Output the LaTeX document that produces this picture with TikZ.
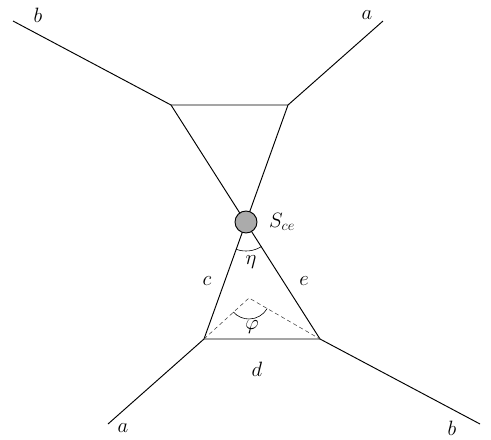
\documentclass[tikz,border=0pt]{standalone}
\usetikzlibrary{calc}
\begin{document}
\begin{tikzpicture}[x=1pt,y=-1pt,
  edge/.style={line width=0.95pt},
  aux/.style={line width=0.55pt,black!75,dash pattern=on 4pt off 3pt},
  anglearc/.style={line width=0.6pt},
  lbl/.style={font=\fontsize{21}{25}\selectfont,inner sep=0pt},
  vtx/.style={circle,draw,line width=0.95pt,fill=black!33,minimum size=22pt,inner sep=0pt}]
\useasboundingbox (0,0) rectangle (491,440);
% outer ends
\coordinate (tl) at (13,21);
\coordinate (tr) at (383,21);
\coordinate (bl) at (108,424);
\coordinate (br) at (480,424);
% corners
\coordinate (A) at (171,105);
\coordinate (B) at (288,105);
\coordinate (C) at (204,339);
\coordinate (D) at (320,339);
\coordinate (X) at (246,222);
\coordinate (P) at (249,298);
% lines
\draw[edge] (tl) -- (A) -- (B) -- (tr);
\draw[edge] (bl) -- (C) -- (D) -- (br);
\draw[edge] (A) -- (D);
\draw[edge] (B) -- (C);
\draw[aux] (C) -- (P) -- (D);
% angle arcs (y axis points down, so angles are measured clockwise)
\draw[anglearc] ($(X)+(57.7:29)$) arc[start angle=57.7,end angle=109.7,radius=29];
\draw[anglearc] ($(P)+(30:21)$) arc[start angle=30,end angle=138,radius=21];
% vertex
\node[vtx] (S) at (X) {};
% labels
\node[lbl] (lb1) at (38,15) {$b$};
\node[lbl] (la1) at (367,15) {$a$};
\node[lbl] (la2) at (123,428) {$a$};
\node[lbl] (lb2) at (452,428) {$b$};
\node[lbl] (ls) at (282,222) {$S_{ce}$};
\node[lbl] (leta) at (251,262) {$\eta$};
\node[lbl] (lc) at (207,281) {$c$};
\node[lbl] (le) at (304,281) {$e$};
\node[lbl] (lphi) at (252,327) {$\varphi$};
\node[lbl] (ld) at (257,369) {$d$};
\end{tikzpicture}
\end{document}
